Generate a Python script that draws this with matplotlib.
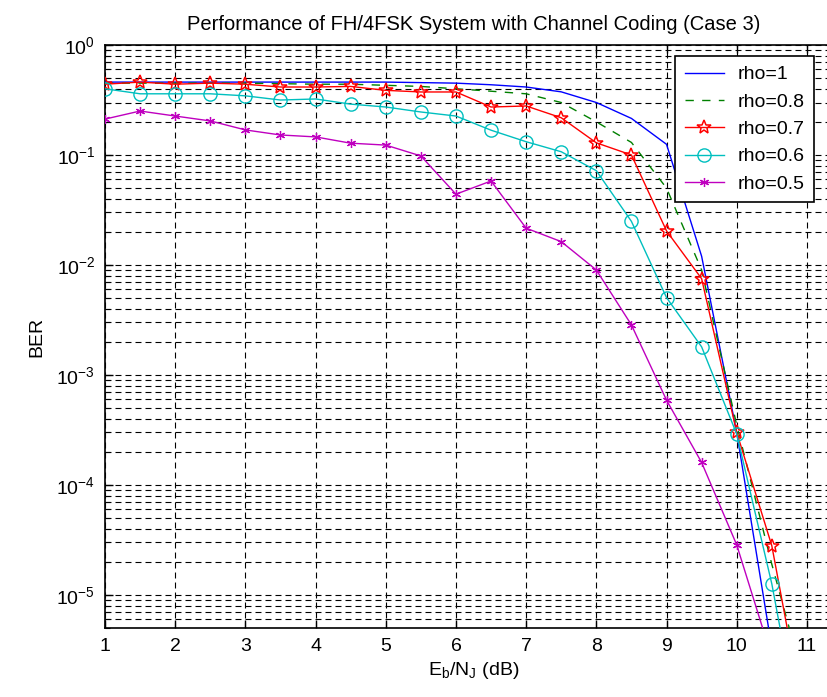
import matplotlib
matplotlib.use("Agg")
import matplotlib.pyplot as plt
import numpy as np
from matplotlib.ticker import LogLocator, FixedLocator, NullFormatter, LogFormatterSciNotation

plt.rcParams['font.family'] = ['Liberation Sans', 'DejaVu Sans']
plt.rcParams['mathtext.fontset'] = 'custom'
plt.rcParams['mathtext.rm'] = 'Liberation Sans'
plt.rcParams['mathtext.it'] = 'Liberation Sans'
plt.rcParams['lines.scale_dashes'] = False

ebnj = [1, 1.5, 2, 2.5, 3, 3.5, 4, 4.5, 5, 5.5, 6, 6.5, 7, 7.5, 8, 8.5, 9, 9.5, 10, 10.5, 11]

ber_rho1 = [0.46, 0.46, 0.46, 0.46, 0.46, 0.46, 0.46, 0.46, 0.46, 0.455, 0.45, 0.435,
            0.415, 0.375, 0.30, 0.215, 0.125, 0.012, 3.0e-4, 3.3e-6, 4e-8]
ber_rho08 = [0.45, 0.45, 0.45, 0.45, 0.45, 0.445, 0.44, 0.44, 0.43, 0.42, 0.40, 0.38,
             0.36, 0.30, 0.20, 0.13, 0.05, 0.009, 3.5e-4, 1.9e-5, 1.3e-6]
ber_rho07 = [0.44, 0.46, 0.44, 0.45, 0.44, 0.415, 0.415, 0.42, 0.387, 0.374, 0.374, 0.273,
             0.279, 0.218, 0.129, 0.10, 0.0204, 0.0075, 3.0e-4, 2.8e-5, 5.5e-7]
ber_rho06 = [0.40, 0.36, 0.36, 0.36, 0.345, 0.316, 0.323, 0.29, 0.273, 0.246, 0.226, 0.168,
             0.132, 0.107, 0.072, 0.0249, 0.00505, 0.0018, 2.9e-4, 1.26e-5, 2.5e-7]
ber_rho05 = [0.212, 0.251, 0.226, 0.204, 0.169, 0.152, 0.146, 0.128, 0.123, 0.098, 0.044, 0.058,
             0.0216, 0.0163, 0.009, 0.00285, 5.9e-4, 1.6e-4, 2.85e-5, 2.7e-6, 1e-7]

labels = ['rho=1', 'rho=0.8', 'rho=0.7', 'rho=0.6', 'rho=0.5']
xticks = [1, 2, 3, 4, 5, 6, 7, 8, 9, 10, 11]

W, H = 828, 697
fig = plt.figure(figsize=(W / 100, H / 100), dpi=100)
left, right, top, bottom = 105, 842, 45, 628
ax = fig.add_axes([left / W, 1 - bottom / H, (right - left) / W, (bottom - top) / H])

c_blue = (0, 0, 1)
c_green = (0, 0.5, 0)
c_red = (1, 0, 0)
c_cyan = (0, 0.75, 0.75)
c_mag = (0.75, 0, 0.75)
lw = 1.0

ax.semilogy(ebnj, ber_rho1, '-', color=c_blue, lw=lw, label=labels[0], zorder=3)
ax.semilogy(ebnj, ber_rho08, color=c_green, lw=lw, linestyle=(0, (6, 6)), label=labels[1], zorder=3)
ax.semilogy(ebnj, ber_rho07, '-', color=c_red, lw=lw, marker='*', markersize=10.5,
            markerfacecolor='none', markeredgecolor=c_red, markeredgewidth=1.1, label=labels[2], zorder=3)
ax.semilogy(ebnj, ber_rho06, '-', color=c_cyan, lw=lw, marker='o', markersize=9.5,
            markerfacecolor='none', markeredgecolor=c_cyan, markeredgewidth=1.0, label=labels[3], zorder=3)
ax.semilogy(ebnj, ber_rho05, '-', color=c_mag, lw=lw, marker=(6, 2, 0), markersize=6.5,
            markeredgecolor=c_mag, markeredgewidth=0.9, label=labels[4], zorder=3)

ax.set_xlim(1, 11.5)
ax.set_ylim(5e-6, 1)
ax.xaxis.set_major_locator(FixedLocator(xticks))
ax.yaxis.set_major_locator(LogLocator(base=10, numticks=20))
ax.yaxis.set_minor_locator(LogLocator(base=10, subs=np.arange(2, 10), numticks=20))
ax.yaxis.set_minor_formatter(NullFormatter())
ax.yaxis.set_major_formatter(LogFormatterSciNotation())

grid_kw = dict(color='black', linewidth=0.8, linestyle=(0, (4.3, 2.9)))
ax.grid(True, which='major', axis='both', **grid_kw)
ax.grid(True, which='minor', axis='y', **grid_kw)
ax.set_axisbelow(True)

ax.tick_params(which='both', direction='in', top=True, right=True, labelsize=14, colors='black')
ax.tick_params(which='major', length=6, width=1.0, pad=7)
ax.tick_params(which='minor', length=3.5, width=0.8)
for s in ax.spines.values():
    s.set_linewidth(1.2)
    s.set_color('black')

ax.set_title('Performance of FH/4FSK System with Channel Coding (Case 3)', fontsize=14.5, pad=11)
ax.set_xlabel(r'E$_\mathregular{b}$/N$_\mathregular{J}$ (dB)', fontsize=14, labelpad=4)
ax.set_ylabel('BER', fontsize=14, labelpad=8)

leg = ax.legend(loc='upper left', bbox_to_anchor=(675 / W, 1 - 56 / H), bbox_transform=fig.transFigure,
                fontsize=14, frameon=True, fancybox=False, framealpha=1, edgecolor='black',
                handlelength=2.0, handletextpad=0.7, labelspacing=0.5, borderpad=0.5,
                borderaxespad=0)
leg.get_frame().set_linewidth(1.2)
leg.set_zorder(5)

fig.savefig('out.png', dpi=100)
